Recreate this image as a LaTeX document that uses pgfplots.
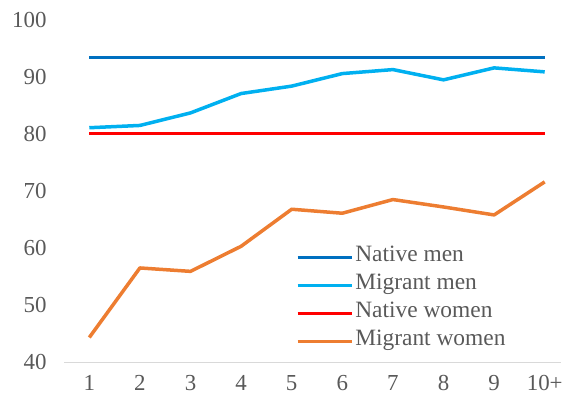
\documentclass[border=0pt]{standalone}
\usepackage{pgfplots}
\pgfplotsset{compat=1.18}
\usepackage{fontspec}
\setmainfont{Liberation Serif}
\definecolor{nativemen}{HTML}{0070C0}
\definecolor{migmen}{HTML}{00B0F0}
\definecolor{nativewomen}{HTML}{FF0000}
\definecolor{migwomen}{HTML}{ED7D31}
\definecolor{txt}{HTML}{595959}
\definecolor{axisgray}{HTML}{D9D9D9}
\begin{document}
\begin{tikzpicture}
\path[use as bounding box] (0,0) rectangle (562bp,406bp);
\begin{axis}[
  at={(64bp,44bp)}, anchor=south west,
  scale only axis, width=497.4bp, height=342bp,
  xmin=0.5, xmax=10.33, ymin=40, ymax=100,
  xtick={1,2,3,4,5,6,7,8,9,10},
  xticklabels={1,2,3,4,5,6,7,8,9,10+},
  ytick={40,50,60,70,80,90,100},
  major tick length=0pt,
  axis x line*=bottom, axis y line*=left,
  y axis line style={draw=none},
  x axis line style={draw=axisgray, line width=1bp, -},
  /pgf/number format/assume math mode=true,
  ticklabel style={font=\fontsize{23}{27}\selectfont, text=txt},
  xticklabel style={yshift=-10bp},
  yticklabel style={xshift=-14bp},
  clip=false,
  legend style={draw=none, fill=none, at={(rel axis cs:0.466,0.347)}, anchor=north west,
    inner sep=0pt, outer sep=0pt, row sep=0bp,
    font=\fontsize{23.5}{27}\selectfont, text=txt,
    nodes={inner xsep=2bp, inner ysep=0pt, text height=18bp, text depth=10bp}},
  legend cell align=left,
  legend image code/.code={\draw[#1] (0bp,0bp) -- (54bp,0bp);},
  every axis plot/.append style={line width=3.5bp, line join=round},
]
\addplot[nativemen, no markers] coordinates {(1,93.4)(2,93.4)(3,93.4)(4,93.4)(5,93.4)(6,93.4)(7,93.4)(8,93.4)(9,93.4)(10,93.4)};
\addlegendentry{Native men}
\addplot[migmen, no markers] coordinates {(1,81.1)(2,81.5)(3,83.7)(4,87.1)(5,88.4)(6,90.6)(7,91.3)(8,89.5)(9,91.6)(10,90.9)};
\addlegendentry{Migrant men}
\addplot[nativewomen, no markers] coordinates {(1,80.1)(2,80.1)(3,80.1)(4,80.1)(5,80.1)(6,80.1)(7,80.1)(8,80.1)(9,80.1)(10,80.1)};
\addlegendentry{Native women}
\addplot[migwomen, no markers] coordinates {(1,44.3)(2,56.5)(3,55.9)(4,60.3)(5,66.8)(6,66.1)(7,68.5)(8,67.2)(9,65.8)(10,71.6)};
\addlegendentry{Migrant women}
\end{axis}
\end{tikzpicture}
\end{document}
